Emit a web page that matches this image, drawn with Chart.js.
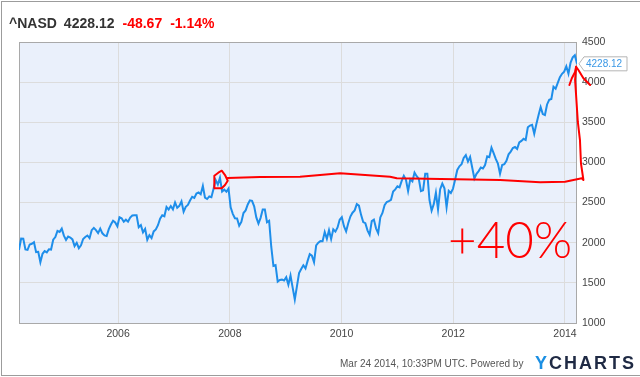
<!DOCTYPE html>
<html>
<head>
<meta charset="utf-8">
<script src="https://cdn.jsdelivr.net/npm/chart.js@4.4.0/dist/chart.umd.min.js"></script>
<style>
  html, body { margin: 0; padding: 0; background: #fff; }
  #wrap { position: relative; width: 640px; height: 377px; overflow: hidden; font-family: "Liberation Sans", Arial, sans-serif; }
  #frame { position: absolute; left: 1px; top: 1px; width: 700px; height: 375px; box-sizing: border-box;
           border-left: 1px solid #9c9c9c; border-top: 1px solid #9c9c9c; border-bottom: 1px solid #9c9c9c; }
  #title { position: absolute; left: 9px; top: 15px; font-size: 14px; line-height: 16px; font-weight: bold; color: #333; white-space: nowrap; }
  #title .neg { color: #f00; margin-left: 8px; }
  #title .px { margin-left: 7px; }
  #foot { position: absolute; left: 340px; top: 358px; font-size: 10px; line-height: 12px; color: #555; white-space: nowrap; }
  #logo { position: absolute; left: 535px; top: 353px; font-size: 18px; line-height: 20px; font-weight: bold; letter-spacing: 2px; color: #1f2a44; white-space: nowrap; }
  #logo .y { color: #1b8fe3; }
  #box { position: absolute; left: 0; top: 0; width: 640px; height: 377px; }
</style>
</head>
<body>
<div id="wrap">
  <div id="frame"></div>
  <div id="box"><canvas id="grafico"></canvas></div>
  <div id="title"></div>
  <div id="foot"></div>
  <div id="logo"><span class="y">Y</span>CHARTS</div>
</div>
<script>
// cabeçalho
const simbolo = "^NASD";
const ultimo = "4228.12";
const variacao = "-48.67";
const variacaoPct = "-1.14%";
const rodape = "Mar 24 2014, 10:33PM UTC. Powered by";

// eixo x: anos decimais, do início ao fim da série (pontos a cada ~2 semanas)
const inicio = 2004.226;
const fim = 2014.215;
const anosX = [2006, 2008, 2010, 2012, 2014];
const valoresY = [1000, 1500, 2000, 2500, 3000, 3500, 4000, 4500];

// fechamentos aproximados
const nasd2004 = [1910, 2052, 2050, 1917, 1912, 1978, 1987, 2006, 1883, 1887, 1757, 1862, 1895, 1880, 1919, 1915, 2038, 2070, 2147, 2135, 2175];
const nasd2005 = [2088, 2035, 2077, 2065, 2041, 1958, 1999, 1932, 1967, 2046, 2071, 2090, 2057, 2156, 2185, 2157, 2120, 2175, 2117, 2090, 2082, 2169, 2227, 2273, 2253, 2205];
const nasd2006 = [2317, 2304, 2262, 2287, 2262, 2313, 2339, 2342, 2342, 2193, 2219, 2129, 2172, 2037, 2094, 2057, 2141, 2165, 2218, 2300, 2342, 2330, 2445, 2413, 2457, 2415];
const nasd2007 = [2502, 2435, 2459, 2515, 2387, 2448, 2471, 2526, 2572, 2558, 2613, 2626, 2603, 2707, 2562, 2544, 2576, 2566, 2671, 2780, 2725, 2810, 2637, 2661, 2635, 2674];
const nasd2008 = [2440, 2360, 2305, 2303, 2212, 2258, 2370, 2402, 2476, 2528, 2522, 2454, 2315, 2239, 2310, 2414, 2414, 2255, 2273, 1947, 1711, 1720, 1516, 1536, 1540, 1530];
const nasd2009 = [1571, 1477, 1591, 1441, 1293, 1457, 1621, 1673, 1719, 1680, 1774, 1858, 1838, 1756, 1966, 2000, 2020, 2018, 2133, 2048, 2156, 2045, 2167, 2138, 2190, 2285];
const nasd2010 = [2317, 2205, 2141, 2243, 2326, 2374, 2402, 2481, 2461, 2347, 2257, 2243, 2154, 2100, 2269, 2288, 2179, 2120, 2315, 2370, 2468, 2507, 2518, 2534, 2637, 2665];
const nasd2011 = [2703, 2689, 2769, 2833, 2784, 2643, 2789, 2764, 2873, 2828, 2796, 2643, 2652, 2860, 2859, 2532, 2400, 2480, 2622, 2415, 2667, 2737, 2678, 2441, 2646, 2619];
const nasd2012 = [2674, 2787, 2906, 2951, 2977, 3055, 3091, 3011, 3069, 2933, 2800, 2858, 2892, 2937, 2925, 2967, 3076, 3066, 3183, 3116, 3044, 2987, 2860, 2967, 2978, 3021];
const nasd2013 = [3101, 3135, 3179, 3193, 3169, 3249, 3268, 3294, 3279, 3437, 3459, 3469, 3357, 3479, 3587, 3689, 3602, 3590, 3722, 3781, 3791, 3943, 3919, 3991, 4062, 4104];
const nasd2014 = [4131, 4197, 4104, 4244, 4308, 4336, 4228.12];

// anotações à mão (em anos / pontos do índice)
const circuloX = [2007.723, 2007.723, 2007.794, 2007.855, 2007.914, 2007.963, 2007.914, 2007.855, 2007.723];
const circuloY = [2678, 2835, 2872, 2897, 2843, 2772, 2719, 2678, 2678];
const linhaX = [2007.963, 2008.541, 2009.257, 2009.974, 2010.869, 2010.989, 2012.838, 2013.555, 2014.002, 2014.301, 2014.33, 2014.286, 2014.268, 2014.23, 2014.181, 2014.199];
const linhaY = [2806, 2818, 2822, 2865, 2822, 2802, 2781, 2752, 2760, 2802, 2781, 2989, 3279, 3504, 4027, 4192];
const setaX = [2014.079, 2014.122, 2014.181, 2014.199, 2014.24, 2014.33, 2014.45];
const setaY = [3964, 4048, 4126, 4192, 4151, 4048, 3964];
const notaTexto = "+40%";
const notaX = [2011.907, 2014.128];
const notaY = 1810;

document.getElementById("title").innerHTML =
  simbolo + '<span class="px">' + ultimo + '</span><span class="neg">' + variacao +
  '</span><span class="neg">' + variacaoPct + '</span>';
document.getElementById("foot").textContent = rodape;

const serie = [].concat(nasd2004, nasd2005, nasd2006, nasd2007, nasd2008, nasd2009,
                        nasd2010, nasd2011, nasd2012, nasd2013, nasd2014);
const passo = (fim - inicio) / (serie.length - 1);
const pontos = serie.map((v, i) => ({ x: inicio + i * passo, y: v }));

const fonte = '"Liberation Sans", Arial, sans-serif';
Chart.defaults.font.family = fonte;

const fundo = {
  id: "fundo",
  beforeDraw(chart) {
    const a = chart.chartArea, c = chart.ctx;
    c.save();
    c.fillStyle = "#eaf0fb";
    c.fillRect(a.left, a.top, a.right - a.left, a.bottom - a.top);
    c.restore();
  },
  beforeDatasetsDraw(chart) {
    const a = chart.chartArea, c = chart.ctx;
    c.save();
    c.strokeStyle = "#a9a9a9";
    c.lineWidth = 1;
    c.strokeRect(a.left + 0.5, a.top + 0.5, a.right - a.left - 1, a.bottom - a.top);
    c.restore();
  }
};

function traco(chart, xs, ys, fechar) {
  const sx = chart.scales.x, sy = chart.scales.y, c = chart.ctx;
  c.beginPath();
  xs.forEach((x, i) => {
    const px = sx.getPixelForValue(x), py = sy.getPixelForValue(ys[i]);
    if (i === 0) c.moveTo(px, py); else c.lineTo(px, py);
  });
  if (fechar) c.closePath();
  c.stroke();
}

const anotacoes = {
  id: "anotacoes",
  afterDatasetsDraw(chart) {
    const c = chart.ctx, sx = chart.scales.x, sy = chart.scales.y;
    c.save();
    c.strokeStyle = "#ff0000";
    c.lineWidth = 2;
    c.lineJoin = "round";
    c.lineCap = "round";
    traco(chart, circuloX, circuloY, true);
    traco(chart, linhaX, linhaY, false);
    traco(chart, setaX, setaY, false);

    // +40%
    const x0 = sx.getPixelForValue(notaX[0]), x1 = sx.getPixelForValue(notaX[1]);
    const yb = sy.getPixelForValue(notaY);
    c.font = '300 52px Lato, "Liberation Sans", sans-serif';
    c.fillStyle = "#ff0000";
    c.textBaseline = "alphabetic";
    const w = c.measureText(notaTexto).width;
    c.translate(x0, yb);
    c.scale((x1 - x0) / w, 1);
    c.fillText(notaTexto, 0, 0);
    c.restore();

    // etiqueta do último valor
    const meta = chart.getDatasetMeta(0);
    const ult = meta.data[meta.data.length - 1];
    const a = chart.chartArea;
    const bx = a.right + 2, by = ult.y;
    c.save();
    c.beginPath();
    c.moveTo(bx, by);
    c.lineTo(bx + 5, by - 7);
    c.lineTo(bx + 48, by - 7);
    c.lineTo(bx + 48, by + 7);
    c.lineTo(bx + 5, by + 7);
    c.closePath();
    c.fillStyle = "#fff";
    c.fill();
    c.strokeStyle = "#b5b5b5";
    c.lineWidth = 1;
    c.stroke();
    c.fillStyle = "#3a98e6";
    c.font = "10px " + fonte;
    c.textBaseline = "middle";
    c.textAlign = "left";
    c.fillText(serie[serie.length - 1].toFixed(2), bx + 7, by + 0.5);
    c.restore();
  }
};

new Chart(document.getElementById("grafico"), {
  type: "line",
  data: {
    datasets: [{
      data: pontos,
      borderColor: "#1e8eea",
      borderWidth: 2,
      pointRadius: 0,
      tension: 0,
      fill: false
    }]
  },
  options: {
    responsive: true,
    maintainAspectRatio: false,
    animation: false,
    layout: { padding: { left: 19, top: 42, right: 0, bottom: 0 } },
    plugins: { legend: { display: false }, tooltip: { enabled: false } },
    scales: {
      x: {
        type: "linear",
        min: inicio,
        max: fim,
        afterBuildTicks: s => { s.ticks = anosX.map(v => ({ value: v })); },
        afterFit: s => { s.height = 54; },
        ticks: { color: "#444", font: { size: 10.5 }, padding: 5, maxRotation: 0, autoSkip: false, callback: v => String(v) },
        grid: { color: "#dcdcdc", drawTicks: false },
        border: { display: false }
      },
      y: {
        position: "right",
        min: 1000,
        max: 4500,
        afterBuildTicks: s => { s.ticks = valoresY.map(v => ({ value: v })); },
        afterFit: s => { s.width = 63; },
        ticks: { color: "#444", font: { size: 10.5 }, padding: 5, callback: v => String(v) },
        grid: { color: "#dcdcdc", drawTicks: false },
        border: { display: false }
      }
    }
  },
  plugins: [fundo, anotacoes]
});
</script>
</body>
</html>
